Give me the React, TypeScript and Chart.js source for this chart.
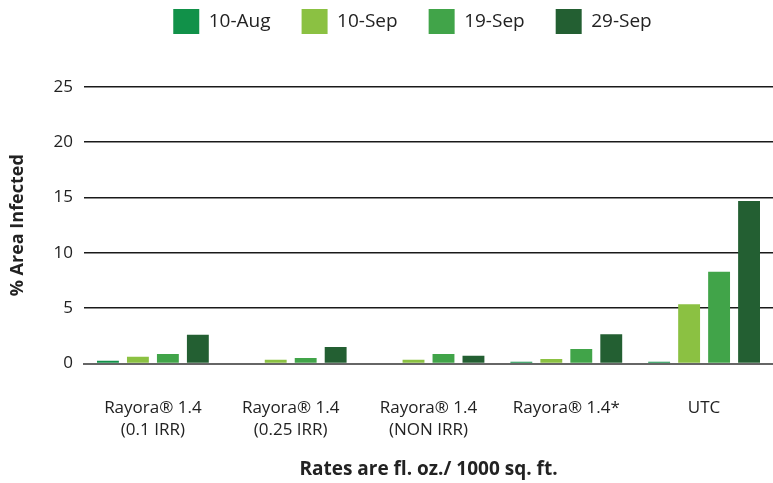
import React, { useEffect, useRef } from "react";
import { Chart, registerables } from "chart.js";

Chart.register(...registerables);

const categories: string[][] = [
  ["Rayora® 1.4", "(0.1 IRR)"],
  ["Rayora® 1.4", "(0.25 IRR)"],
  ["Rayora® 1.4", "(NON IRR)"],
  ["Rayora® 1.4*"],
  ["UTC"],
];
const seriesNames = ["10-Aug", "10-Sep", "19-Sep", "29-Sep"];
const aug10 = [0.25, 0, 0, 0.15, 0.15];
const sep10 = [0.6, 0.35, 0.35, 0.4, 5.35];
const sep19 = [0.85, 0.5, 0.85, 1.3, 8.3];
const sep29 = [2.6, 1.5, 0.7, 2.65, 14.7];
const colors = ["#119149", "#8bc142", "#41a449", "#235f32"];
const yTicks = [0, 5, 10, 15, 20, 25];

export default function App() {
  const ref = useRef<HTMLCanvasElement>(null);
  useEffect(() => {
    document.body.style.margin = "0";
    const font = "'Open Sans', sans-serif";
    const values = [aug10, sep10, sep19, sep29];
    const legendGap = {
      id: "legendGap",
      beforeInit(chart: any) {
        const orig = chart.legend.fit;
        chart.legend.fit = function () {
          orig.bind(chart.legend)();
          this.height += 43;
        };
      },
      afterLayout(chart: any) {
        chart.legend.left += 26;
        chart.legend.right += 26;
      },
    };
    const chart = new Chart(ref.current!, {
      type: "bar",
      data: {
        labels: categories,
        datasets: seriesNames.map((n, i) => ({
          label: n,
          data: values[i],
          backgroundColor: colors[i],
          borderWidth: 0,
          categoryPercentage: 0.87,
          barPercentage: 0.73,
        })),
      },
      plugins: [legendGap],
      options: {
        animation: false,
        responsive: false,
        maintainAspectRatio: false,
        layout: { padding: { top: -22, right: 0, bottom: 2, left: 0 } },
        plugins: {
          legend: {
            position: "top",
            labels: {
              boxWidth: 26,
              boxHeight: 25,
              padding: 31,
              color: "#222",
              font: { family: font, size: 19 },
            },
          },
          tooltip: { enabled: false },
        },
        scales: {
          x: {
            afterFit: (s: any) => {
              s.height = 117.5;
            },
            grid: { display: false, drawTicks: false },
            border: { display: true, color: "#666", width: 2 },
            ticks: {
              color: "#222",
              padding: 34,
              maxRotation: 0,
              font: { family: font, size: 17, lineHeight: 1.3 },
            },
            title: {
              display: true,
              text: "Rates are fl. oz./ 1000 sq. ft.",
              color: "#222",
              font: { family: font, size: 19, weight: "bold" },
              padding: { top: 0, bottom: 0 },
            },
          },
          y: {
            min: 0,
            max: 25,
            afterBuildTicks: (s: any) => {
              s.ticks = yTicks.map((v) => ({ value: v }));
            },
            afterFit: (s: any) => {
              s.width = 84;
            },
            grid: { color: "#1a1a1a", lineWidth: 1.6, drawTicks: false },
            border: { display: false },
            ticks: {
              color: "#222",
              padding: 11,
              font: { family: font, size: 17 },
            },
            title: {
              display: true,
              text: "% Area Infected",
              color: "#222",
              font: { family: font, size: 18, weight: "bold" },
              padding: { top: 7, bottom: 0 },
            },
          },
        },
      },
    });
    return () => chart.destroy();
  }, []);
  return (
    <div style={{ position: "absolute", left: 0, top: 0, width: 773, height: 483 }}>
      <canvas ref={ref} width={773} height={483} style={{ width: 773, height: 483 }} />
    </div>
  );
}
